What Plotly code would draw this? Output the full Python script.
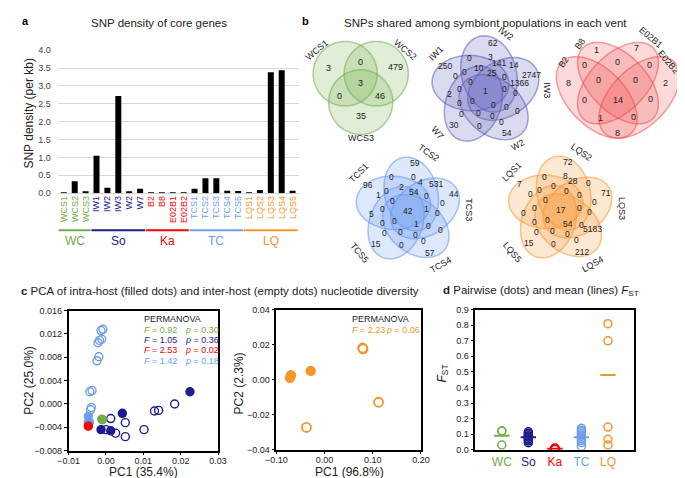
import numpy as np
import plotly.graph_objects as go

W, H = 685, 478
def fx(x): return x / W
def fy(y): return 1 - y / H

FONT = "Liberation Sans, Arial, sans-serif"

# ---------------- data ----------------
bar_labels = ["WCS1", "WCS2", "WCS3", "IW1", "IW2", "IW3", "W2", "W7", "B2", "B8", "E02B1", "E02B2",
              "TCS1", "TCS2", "TCS3", "TCS4", "TCS5", "LQS1", "LQS2", "LQS3", "LQS4", "LQS5"]
snp_density = [0.02, 0.33, 0.05, 1.05, 0.15, 2.72, 0.03, 0.12, 0.01, 0.01, 0.01, 0.01,
               0.12, 0.42, 0.42, 0.07, 0.06, 0.02, 0.09, 3.38, 3.44, 0.07]
group_names = ["WC", "So", "Ka", "TC", "LQ"]
group_sizes = [3, 5, 4, 5, 5]
group_colors = ["#70AD47", "#1C1C8C", "#FF0000", "#6D9EEB", "#F5962A"]

wc_sets = ["WCS1", "WCS2", "WCS3"]
wc_counts = [3, 0, 479, 3, 0, 46, 35]
ka_sets = ["B2", "B8", "E02B1", "E02B2"]
ka_counts = [1, 7, 0, 0, 0, 8, 0, 0, 2, 0, 14, 0, 1, 0, 8]
so_sets = ["IW1", "IW2", "IW3", "W2", "W7"]
so_counts = [62, 250, 14, 2747, 0, 3, 141, 10, 25, 0, 0, 0, 1366, 0, 0, 1, 0, 0, 2, 0, 0, 0, 0, 0, 0, 0, 0, 0, 30, 0, 54]
tc_sets = ["TCS1", "TCS2", "TCS3", "TCS4", "TCS5"]
tc_counts = [59, 96, 531, 44, 0, 0, 4, 2, 54, 1, 0, 0, 0, 0, 0, 42, 1, 0, 5, 0, 0, 1, 0, 0, 0, 0, 0, 0, 15, 0, 57]
lq_sets = ["LQS1", "LQS2", "LQS3", "LQS4", "LQS5"]
lq_counts = [72, 7, 0, 71, 0, 8, 28, 0, 0, 0, 0, 0, 0, 0, 0, 17, 0, 0, 0, 0, 0, 54, 0, 5183, 0, 0, 0, 0, 15, 0, 212]

perm_F = ["0.92", "1.05", "2.53", "1.42"]
perm_p = ["0.30", "0.36", "0.02", "0.18"]
lq_perm_F, lq_perm_p = "2.23", "0.06"

wc_intra_x, wc_intra_y = [-0.0011], [-0.0026]
wc_inter_x, wc_inter_y = [-0.0009], [-0.0027]
so_intra_x = [0.0044, 0.0225, -0.0013, 0.0013]
so_intra_y = [-0.0016, 0.0021, -0.0044, -0.0046]
so_inter_x = [0.0013, 0.0052, 0.0000, 0.0026, 0.0052, 0.0102, 0.0130, 0.0141, 0.0184]
so_inter_y = [-0.0025, -0.0032, -0.0044, -0.0050, -0.0056, -0.0044, -0.0012, -0.0011, 0.0000]
ka_intra_x, ka_intra_y = [-0.0047], [-0.0038]
tc_intra_x, tc_intra_y = [-0.0047, -0.0047], [-0.0021, -0.0032]
tc_inter_x = [-0.0013, -0.0008, -0.0011, -0.0017, -0.0021, -0.0019, -0.0024, -0.0043, -0.0037, -0.0039, -0.0041, -0.0044]
tc_inter_y = [0.0126, 0.0128, 0.0111, 0.0109, 0.0105, 0.0081, 0.0074, 0.0021, 0.0023, -0.0006, -0.0010, -0.0031]
lq_intra_x, lq_intra_y = [-0.0694, -0.0714, -0.0286], [0.0026, 0.0011, 0.0050]
lq_inter_x, lq_inter_y = [0.079, 0.080, 0.1122, -0.0374], [0.0181, 0.0176, -0.0129, -0.0273]

fst_wc = [0.12, 0.12, 0.03]
fst_so = [0.115, 0.105, 0.10, 0.09, 0.085, 0.08, 0.07, 0.065, 0.055, 0.045]
fst_ka = [0.002, 0.005, 0.008, 0.01, 0.004, 0.006]
fst_tc = [0.137, 0.125, 0.116, 0.105, 0.095, 0.085, 0.074, 0.06, 0.046, 0.021]
fst_lq = [0.81, 0.70, 0.145, 0.067, 0.03]
fst_mean = [0.09, 0.08, 0.006, 0.08, 0.48]

# ---------------- figure ----------------
fig = go.Figure()
annotations = []
shapes = []

def ann(x, y, text, size=9, color="#222", angle=0, xanchor="center", yanchor="middle", xref="paper", yref="paper", **kw):
    annotations.append(dict(x=x, y=y, xref=xref, yref=yref, text=text, showarrow=False,
                            font=dict(size=size, color=color, family=FONT), textangle=angle,
                            xanchor=xanchor, yanchor=yanchor, borderpad=0, **kw))

TITLE = 11.5

# ---- panel a ----
label_colors = [c for c, n in zip(group_colors, group_sizes) for _ in range(n)]
fig.add_trace(go.Bar(x=list(range(len(bar_labels))), y=snp_density, marker_color="black",
                     marker_line_width=0, width=0.55, xaxis="x", yaxis="y"))
ticktext = [f"<span style='color:{c}'>{t}</span>" for t, c in zip(bar_labels, label_colors)]
start = 0
for name, n, c in zip(group_names, group_sizes, group_colors):
    end = start + n - 1
    shapes.append(dict(type="line", xref="x", yref="paper", x0=start - 0.47, x1=end + 0.47,
                       y0=fy(222), y1=fy(222), line=dict(color=c, width=2)))
    ann((start + end) / 2, fy(233), name, size=12, color=c, xref="x")
    start += n

ann(fx(2), fy(8), "<b>a</b>", size=11, color="black", xanchor="left")
ann(fx(144), fy(10), "SNP density of core genes", size=TITLE, color="#222")
ann(fx(10), fy(102), "SNP density (per kb)", size=12, color="#222", angle=-90)

# ---- panel b (venns) ----
def ellipse_path(cx, cy, a, b, ang_deg, n=90):
    t = np.linspace(0, 2 * np.pi, n, endpoint=False)
    th = np.deg2rad(ang_deg)
    xs = cx + a * np.cos(t) * np.cos(th) - b * np.sin(t) * np.sin(th)
    ys = cy + a * np.cos(t) * np.sin(th) + b * np.sin(t) * np.cos(th)
    return "M " + " L ".join(f"{fx(x):.5f},{fy(y):.5f}" for x, y in zip(xs, ys)) + " Z"

def add_ellipse(cx, cy, a, b, ang, rgb, fa=0.22, la=0.55):
    shapes.append(dict(type="path", xref="paper", yref="paper", path=ellipse_path(cx, cy, a, b, ang),
                       fillcolor=f"rgba({rgb},{fa})", line=dict(color=f"rgba({rgb},{la})", width=1.5),
                       layer="below"))

ann(fx(290), fy(8), "<b>b</b>", size=11, color="black", xanchor="left")
ann(fx(481), fy(10), "SNPs shared among symbiont populations in each vent", size=TITLE, color="#222")

# green 3-set
green = "112,173,71"
for (cx, cy) in [(336, 62), (368, 62), (352, 91)]:
    add_ellipse(cx, cy, 33, 33, 0, green)
wc_pos = [(319, 56), (352, 50), (388, 55), (352, 71), (330, 85), (372, 85), (352, 105)]
for v, (x, y) in zip(wc_counts, wc_pos):
    ann(fx(x), fy(y), str(v))
for s, (x, y, a) in zip(wc_sets, [(307, 38, -40), (398, 38, 40), (352, 128, 0)]):
    ann(fx(x), fy(y), s, angle=a)

# red 4-set
red = "238,70,70"
U, ox, oy = 146, 617, 30
for (ux, uy, ang) in [(0.35, 0.47, 45), (0.5, 0.57, 45), (0.5, 0.57, 135), (0.65, 0.47, 135)]:
    add_ellipse(ox + (ux - 0.5) * U, oy + (0.855 - uy) * U, 0.35 * U, 0.2 * U, ang, red, fa=0.2, la=0.5)
ka_pos = [(595, 38), (636, 36), (582, 53), (616, 50), (649, 53), (566, 72), (597, 68), (635, 68),
          (666, 72), (583, 89), (617, 89), (650, 88), (599, 107), (633, 106), (617, 123)]
for v, (x, y) in zip(ka_counts, ka_pos):
    ann(fx(x), fy(y), str(v))
for s, (x, y, a) in zip(ka_sets, [(561, 50, -55), (578, 32, -55), (650, 25, 40), (669, 50, 50)]):
    ann(fx(x), fy(y), s, angle=a)

# 5-set template (pixel offsets from centre)
tmpl = [(7, -49), (-42, -26), (29, -27), (47, -17), (-17, -34), (5, -35), (13, -29), (-7, -24), (6, -19),
        (-31, -16), (-22, -20), (19, -15), (35, -8), (-16, -10), (-27, -2), (0, 0), (19, -2), (30, 2),
        (-38, 3), (-14, 10), (-27, 12), (8, 14), (21, 16), (33, 20), (-25, 23), (-8, 22), (7, 25),
        (16, 31), (-33, 34), (-7, 35), (22, 43)]
lab_tmpl = [(-51, -39, -45), (21, -59, 35), (63, -1, 90), (33, 55, -30), (-50, 43, 50)]

def five_venn(cx, cy, R, rgb, counts, sets, d=0.3, a=0.66, b=0.47, tilt=25):
    for i in range(5):
        phi = 152 - 72 * i
        pr = np.deg2rad(phi)
        ecx, ecy = cx + d * R * np.cos(pr), cy - d * R * np.sin(pr)
        add_ellipse(ecx, ecy, a * R, b * R, -(phi + tilt), rgb)
    for v, (dx, dy) in zip(counts, tmpl):
        ann(fx(cx + dx), fy(cy + dy), str(v), size=8.5)
    for s, (dx, dy, ang) in zip(sets, lab_tmpl):
        ann(fx(cx + dx), fy(cy + dy), s, angle=ang)

five_venn(481, 80, 60, "90,90,185", so_counts, so_sets)
five_venn(401, 202, 58, "100,150,240", tc_counts, tc_sets)
five_venn(558, 201, 58, "247,150,50", lq_counts, lq_sets)

# ---- panel c ----
ann(fx(1), fy(284), "<b>c</b> PCA of intra-host (filled dots) and inter-host (empty dots) nucleotide diversity",
    size=TITLE, color="#222", xanchor="left")

def pts(x, y, color, filled, xa, ya, size=8, lw=1.4):
    fig.add_trace(go.Scatter(x=x, y=y, mode="markers", xaxis=xa, yaxis=ya,
                             marker=dict(size=size, symbol="circle" if filled else "circle-open",
                                         color=color, line=dict(width=lw, color=color))))

gc = group_colors
pts(tc_inter_x, tc_inter_y, gc[3], False, "x2", "y2")
pts(so_inter_x, so_inter_y, gc[1], False, "x2", "y2")
pts(wc_inter_x, wc_inter_y, gc[0], False, "x2", "y2")
pts(tc_intra_x, tc_intra_y, gc[3], True, "x2", "y2")
pts(ka_intra_x, ka_intra_y, gc[2], True, "x2", "y2")
pts(wc_intra_x, wc_intra_y, gc[0], True, "x2", "y2")
pts(so_intra_x, so_intra_y, gc[1], True, "x2", "y2")
pts(lq_inter_x, lq_inter_y, gc[4], False, "x3", "y3", size=9, lw=1.8)
pts(lq_intra_x, lq_intra_y, gc[4], True, "x3", "y3", size=9)

ann(fx(128), fy(313), "PERMANOVA", size=9, color="#222", xanchor="left")
for i, (F, p) in enumerate(zip(perm_F, perm_p)):
    c = gc[i]
    y = 323.5 + i * 10.5
    ann(fx(128), fy(y), f"<i>F</i> = {F}", size=9, color=c, xanchor="left")
    ann(fx(170), fy(y), f"<i>p</i> = {p}", size=9, color=c, xanchor="left")
ann(fx(342), fy(313), "PERMANOVA", size=9, color="#222", xanchor="left")
ann(fx(342), fy(323.5), f"<i>F</i> = {lq_perm_F}", size=9, color=gc[4], xanchor="left")
ann(fx(377), fy(323.5), f"<i>p</i> = {lq_perm_p}", size=9, color=gc[4], xanchor="left")

ann(fx(128), fy(468.5), "PC1 (35.4%)", size=12)
ann(fx(10), fy(375), "PC2 (25.0%)", size=12, angle=-90)
ann(fx(340), fy(468.5), "PC1 (96.8%)", size=12)
ann(fx(227), fy(378), "PC2 (2.3%)", size=12, angle=-90)

# ---- panel d ----
ann(fx(436), fy(284), "<b>d</b> Pairwise (dots) and mean (lines) <i>F</i><sub>ST</sub>", size=TITLE, color="#222", xanchor="left")
ann(fx(437), fy(368), "<i>F</i><sub>ST</sub>", size=12, angle=-90)
for i, (vals, c) in enumerate(zip([fst_wc, fst_so, fst_ka, fst_tc, fst_lq], gc)):
    pts([i + 1] * len(vals), vals, c, False, "x4", "y4", size=8, lw=1.5)
for i, (m, c) in enumerate(zip(fst_mean, gc)):
    fig.add_trace(go.Scatter(x=[i + 1], y=[m], mode="markers", xaxis="x4", yaxis="y4",
                             marker=dict(symbol="line-ew", size=11, line=dict(width=2, color=c))))

# ---------------- layout ----------------
frame = dict(showline=True, mirror=True, linecolor="black", linewidth=1.5, ticks="outside", ticklen=3,
             tickcolor="black", showgrid=False, zeroline=False, tickfont=dict(size=9, color="#222"))
xframe = {**frame, "ticklabelstandoff": -2}

fig.update_layout(
    width=W, height=H, margin=dict(l=0, r=0, t=0, b=0), showlegend=False,
    paper_bgcolor="white", plot_bgcolor="white", font=dict(family=FONT),
    xaxis=dict(domain=[fx(40), fx(288)], range=[-0.55, 21.55], tickvals=list(range(22)), ticktext=ticktext,
               tickangle=-90, tickfont=dict(size=9), showline=False, showgrid=False, zeroline=False, ticks=""),
    yaxis=dict(domain=[fy(184), fy(38)], range=[0, 4.0], dtick=0.5, tickformat=".1f", gridcolor="#D9D9D9",
               zeroline=True, zerolinecolor="#D9D9D9", zerolinewidth=1, showline=False,
               tickfont=dict(size=9, color="#444"), ticklabelstandoff=6),
    xaxis2=dict(domain=[fx(51), fx(205)], range=[-0.01, 0.03], dtick=0.01, tickformat=".2f", anchor="y2", **xframe),
    yaxis2=dict(domain=[fy(447), fy(304)], range=[-0.008, 0.016], dtick=0.004, tickformat=".3f", anchor="x2", **frame),
    xaxis3=dict(domain=[fx(265), fx(414)], range=[-0.10, 0.20], dtick=0.1, tickformat=".2f", anchor="y3", **xframe),
    yaxis3=dict(domain=[fy(446), fy(303)], range=[-0.04, 0.04], dtick=0.02, tickformat=".2f", anchor="x3", **frame),
    xaxis4=dict(domain=[fx(470), fx(634)], range=[0, 6], tickvals=[1, 2, 3, 4, 5],
                ticktext=[f"<span style='color:{c}'>{n}</span>" for n, c in zip(group_names, gc)],
                anchor="y4", **{**frame, "ticks": "", "tickfont": dict(size=12)}),
    yaxis4=dict(domain=[fy(446), fy(303)], range=[0, 0.9], dtick=0.1, tickformat=".1f", anchor="x4", **frame),
    annotations=annotations, shapes=shapes,
)

fig.write_html("out.html")
